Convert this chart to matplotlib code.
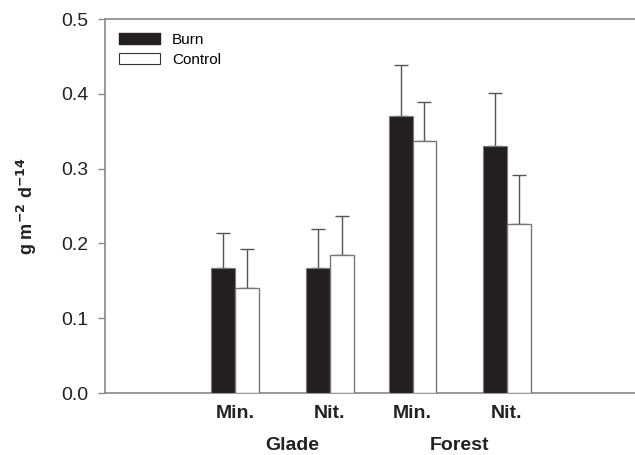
import matplotlib.pyplot as plt
from matplotlib.patches import Patch

plt.rcParams['font.family'] = ['Liberation Sans', 'DejaVu Sans']

# дані
groups = ['Min.', 'Nit.', 'Min.', 'Nit.']
group_pos = [0, 1, 1.875, 2.875]
sites = ['Glade', 'Forest']
site_pos = [0.605, 2.374]

burn = [0.167, 0.167, 0.370, 0.330]
burn_err = [0.047, 0.052, 0.069, 0.071]
control = [0.141, 0.185, 0.337, 0.226]
control_err = [0.051, 0.052, 0.052, 0.066]

yticks = [0.0, 0.1, 0.2, 0.3, 0.4, 0.5]

w = 0.253
fig = plt.figure(figsize=(6.35, 4.55), dpi=100)
ax = fig.add_axes([105 / 635, 1 - 393 / 455, 1 - 105 / 635, 374 / 455])

bar_col = '#231f20'
edge = '#777777'
burn_x = [p - w / 2 for p in group_pos]
ctrl_x = [p + w / 2 for p in group_pos]

ax.bar(burn_x, burn, w, color=bar_col, edgecolor=edge, linewidth=0.8, zorder=3)
ax.bar(ctrl_x, control, w, color='white', edgecolor=edge, linewidth=1.0, zorder=3)

# тільки верхні похибки
ax.errorbar(burn_x, burn, yerr=[[0] * 4, burn_err], fmt='none', ecolor='#555555',
            elinewidth=1.0, capsize=5, capthick=1.0, zorder=2)
ax.errorbar(ctrl_x, control, yerr=[[0] * 4, control_err], fmt='none', ecolor='#555555',
            elinewidth=1.0, capsize=5, capthick=1.0, zorder=2)

ax.set_xlim(-1.38, 4.23)
ax.set_ylim(0, 0.5)
ax.set_yticks(yticks)
ax.set_yticklabels([f'{v:.1f}' for v in yticks], fontsize=14, color='#222222')
ax.tick_params(axis='y', direction='out', length=5, width=1, color='#888888', pad=7)

ax.set_xticks(group_pos)
ax.set_xticklabels(groups, fontsize=14, fontweight='bold', color='#222222')
ax.tick_params(axis='x', length=0, pad=9)

for name, p in zip(sites, site_pos):
    ax.text(p, -0.07, name, ha='center', va='center', fontsize=14,
            fontweight='bold', color='#222222', transform=ax.transData)

for s in ['left', 'bottom', 'top']:
    ax.spines[s].set_color('#888888')
    ax.spines[s].set_linewidth(1.2)
ax.spines['right'].set_visible(False)

ax.set_ylabel(r'g m$^{\mathbf{-2}}$ d$^{\mathbf{-14}}$', fontsize=13, fontweight='bold',
              color='#222222', labelpad=16)

handles = [Patch(facecolor=bar_col, edgecolor=bar_col, label='Burn'),
           Patch(facecolor='white', edgecolor='#333333', linewidth=0.8, label='Control')]
ax.legend(handles=handles, loc='upper left', frameon=False, fontsize=11,
          handlelength=2.7, handleheight=0.75, borderaxespad=0.5, labelspacing=0.4,
          handletextpad=0.8, bbox_to_anchor=(0.0, 1.0))

plt.savefig('out.png', dpi=100)
